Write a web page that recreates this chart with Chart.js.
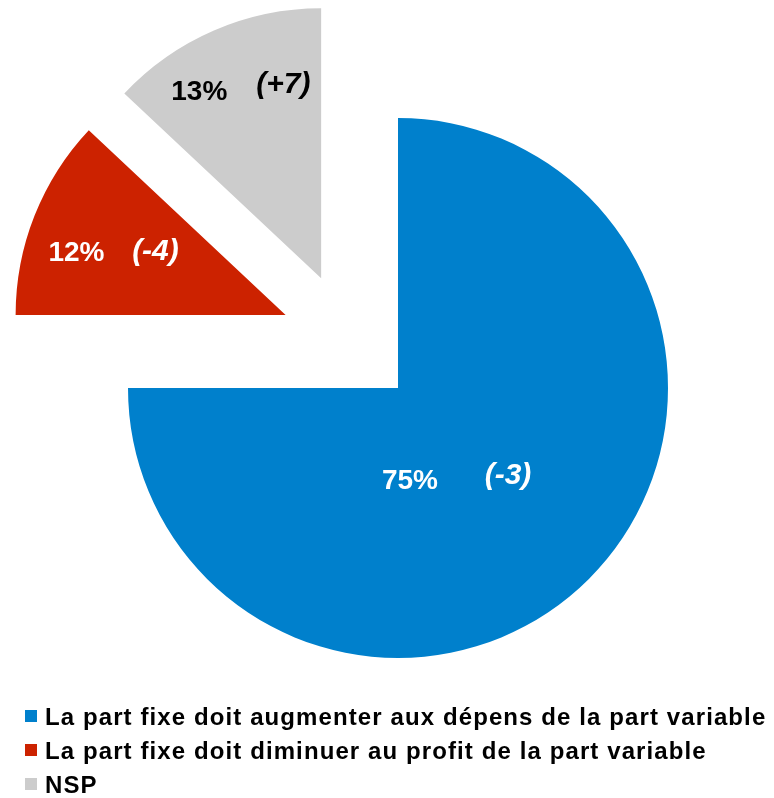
<!DOCTYPE html>
<html lang="fr">
<head>
    <meta charset="UTF-8">
    <title>Part fixe / part variable</title>
    <style>
        body {
            margin: 0;
            background-color: #fff;
            overflow: hidden;
        }
        .wrap {
            position: relative;
            width: 774px;
            height: 798px;
            overflow: hidden;
        }
        #pie {
            position: absolute;
            left: 0;
            top: 0;
        }
        .legend {
            position: absolute;
            left: 25px;
            top: 700px;
            font: bold 24px "Liberation Sans", Arial, sans-serif;
            letter-spacing: 1.1px;
            color: #000;
        }
        .legend .row {
            position: relative;
            height: 34px;
            line-height: 34px;
            padding-left: 20px;
            white-space: nowrap;
        }
        .legend .box {
            position: absolute;
            left: 0;
            top: 10px;
            width: 12px;
            height: 12px;
        }
    </style>
</head>
<body>
    <div class="wrap">
        <canvas id="pie" width="796" height="776"></canvas>
        <div class="legend" id="legend"></div>
    </div>

    <script src="https://cdn.jsdelivr.net/npm/chart.js"></script>
    <script>
        const labels = [
            'La part fixe doit augmenter aux dépens de la part variable',
            'La part fixe doit diminuer au profit de la part variable',
            'NSP'
        ];
        const shares = [75, 12, 13];
        const changes = ['(-3)', '(-4)', '(+7)'];

        const colors = ['#0080cc', '#cc2200', '#cccccc'];
        const textColors = ['#fff', '#fff', '#000'];

        // pulled-out slices: distance in px and direction in degrees clockwise from 12 o'clock
        const explodeDist = [0, 134, 134];
        const explodeDir = [0, 303, 325];

        // where the two labels of each slice sit
        const labelPlace = [
            { r: 0.404, turn: 11, gap: 98, lift: 5 },
            { r: 0.67, turn: -1.3, gap: 79, lift: 2 },
            { r: 0.763, turn: 0.6, gap: 84, lift: 8 }
        ];

        const explode = {
            id: 'explode',
            afterDatasetsUpdate(chart) {
                chart.getDatasetMeta(0).data.forEach((arc, i) => {
                    const a = (explodeDir[i] - 90) * Math.PI / 180;
                    arc.x += Math.cos(a) * explodeDist[i];
                    arc.y += Math.sin(a) * explodeDist[i];
                });
            }
        };

        const sliceLabels = {
            id: 'sliceLabels',
            afterDatasetsDraw(chart) {
                const ctx = chart.ctx;
                chart.getDatasetMeta(0).data.forEach((arc, i) => {
                    const p = labelPlace[i];
                    const mid = (arc.startAngle + arc.endAngle) / 2 + p.turn * Math.PI / 180;
                    const r = arc.outerRadius * p.r;
                    const cx = arc.x + Math.cos(mid) * r;
                    const cy = arc.y + Math.sin(mid) * r;
                    ctx.save();
                    ctx.textAlign = 'center';
                    ctx.textBaseline = 'middle';
                    ctx.fillStyle = textColors[i];
                    ctx.font = 'bold 28px "Liberation Sans", Arial, sans-serif';
                    ctx.fillText(shares[i] + '%', cx - p.gap / 2, cy + p.lift / 2);
                    ctx.font = 'italic bold 30px "Liberation Sans", Arial, sans-serif';
                    ctx.fillText(changes[i], cx + p.gap / 2, cy - p.lift / 2);
                    ctx.restore();
                });
            }
        };

        const chart = new Chart(document.getElementById('pie'), {
            type: 'pie',
            data: {
                labels: labels,
                datasets: [{
                    data: shares,
                    backgroundColor: colors,
                    borderWidth: 0,
                    radius: 270
                }]
            },
            options: {
                responsive: false,
                animation: false,
                layout: { padding: 0 },
                plugins: {
                    legend: { display: false },
                    tooltip: { enabled: false }
                }
            },
            plugins: [explode, sliceLabels]
        });

        // legend built from the chart's own labels and colours
        const legendDiv = document.getElementById('legend');
        labels.forEach((text, i) => {
            const row = document.createElement('div');
            row.className = 'row';
            row.innerHTML = '<span class="box" style="background:' + colors[i] + '"></span>' + text;
            legendDiv.appendChild(row);
        });
    </script>
</body>
</html>
